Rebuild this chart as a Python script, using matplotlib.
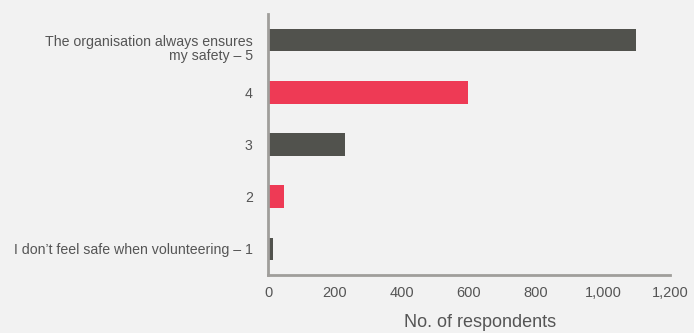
import matplotlib
matplotlib.use("Agg")
import matplotlib.pyplot as plt
import matplotlib.transforms as mtransforms
from matplotlib.ticker import FuncFormatter

CATEGORIES = ["I don\u2019t feel safe when volunteering \u2013 1", "2", "3", "4",
              "The organisation always ensures\nmy safety \u2013 5"]
RESPONDENTS = [16, 48, 230, 597, 1100]
COLORS = ["#51524d", "#ee3a55", "#51524d", "#ee3a55", "#51524d"]
XTICKS = [0, 200, 400, 600, 800, 1000, 1200]

BG = "#f2f2f2"
TXT = "#555555"
plt.rcParams["font.family"] = ["Liberation Sans", "DejaVu Sans"]

fig = plt.figure(figsize=(6.94, 3.33), dpi=100, facecolor=BG)
ax = fig.add_axes([0.3862, 0.1742, 0.5792, 0.7838], facecolor=BG)

ax.barh(range(len(CATEGORIES)), RESPONDENTS, height=0.43, color=COLORS)
ax.set_ylim(-0.5, 4.5)
ax.set_xlim(0, 1200)
ax.set_yticks(range(len(CATEGORIES)))
ax.set_yticklabels(CATEGORIES, fontsize=10.2, color=TXT, linespacing=1.05)
ax.set_xticks(XTICKS)
ax.xaxis.set_major_formatter(FuncFormatter(lambda v, _: f"{v:,.0f}"))
ax.tick_params(axis="x", length=0, pad=8, labelsize=10.5, labelcolor=TXT)
ax.tick_params(axis="y", length=0, pad=11)
for s in ["top", "right"]:
    ax.spines[s].set_visible(False)
for s in ["left", "bottom"]:
    ax.spines[s].set_color("#a09e9b")
    ax.spines[s].set_linewidth(2)
ax.set_xlabel("No. of respondents", fontsize=13, color=TXT)
ax.xaxis.set_label_coords(0.527, -0.15)

# the two-line label sits with its first line level with the bar
top_lbl = ax.get_yticklabels()[-1]
top_lbl.set_transform(top_lbl.get_transform()
                      + mtransforms.ScaledTranslation(0, -0.07, fig.dpi_scale_trans))

fig.savefig("out.png", dpi=100, facecolor=BG)
